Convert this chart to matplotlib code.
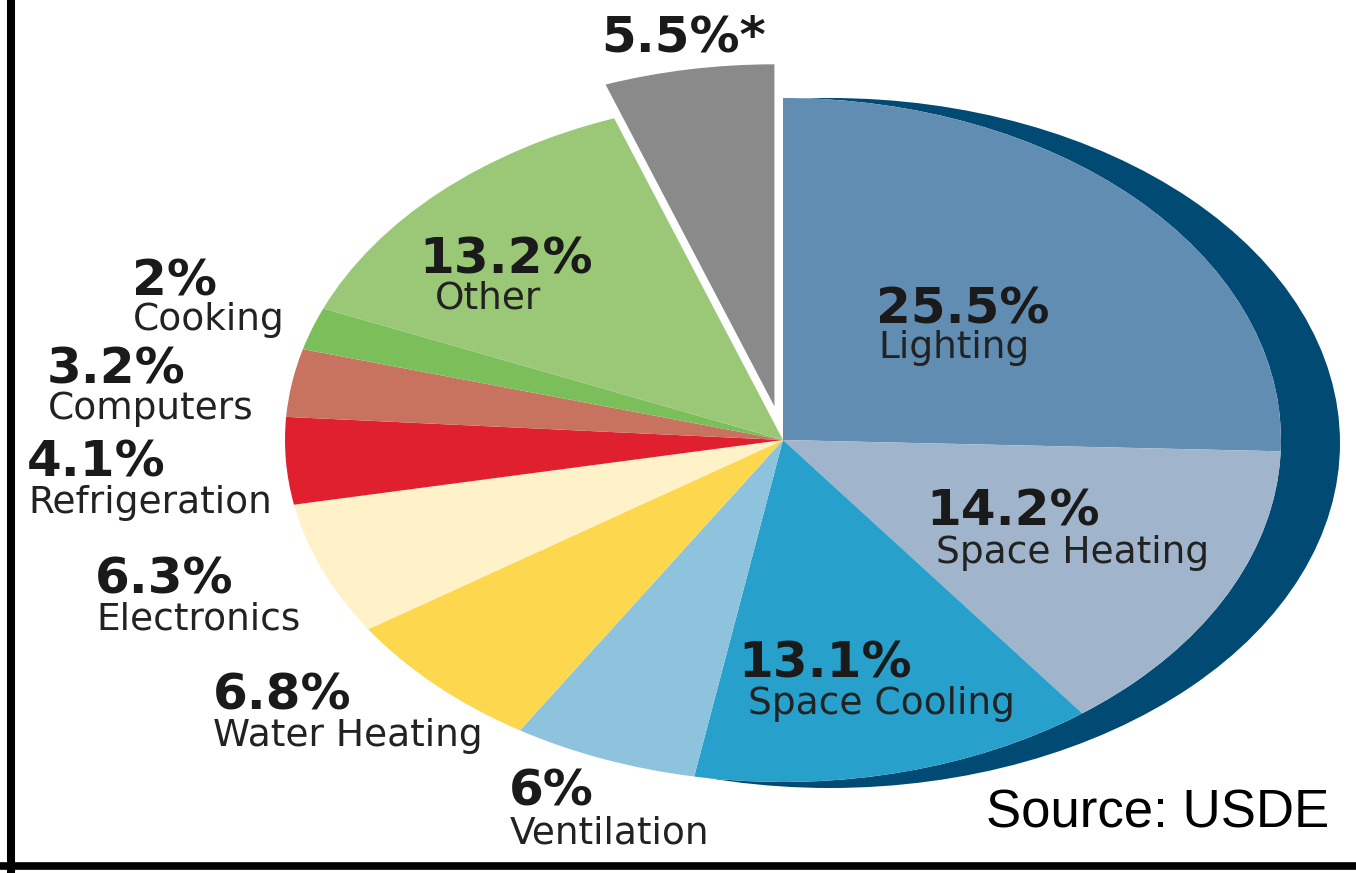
import matplotlib.pyplot as plt
from matplotlib.patches import Ellipse
from matplotlib.lines import Line2D

# Data (clockwise from 12 o'clock)
categories = ['Lighting', 'Space Heating', 'Space Cooling', 'Ventilation', 'Water Heating',
              'Electronics', 'Refrigeration', 'Computers', 'Cooking', 'Other', '']
shares = [25.5, 14.2, 13.1, 6, 6.8, 6.3, 4.1, 3.2, 2, 13.2, 5.5]
pct_labels = ['25.5%', '14.2%', '13.1%', '6%', '6.8%', '6.3%', '4.1%', '3.2%', '2%', '13.2%', '5.5%*']

colors = ['#628db3', '#a0b5cc', '#27a1cb', '#8dc3dc', '#fdd84f', '#fff2c9',
          '#e01f2f', '#c87360', '#7bbf5a', '#9bc877', '#8a8a8a']
explode = [0, 0, 0, 0, 0, 0, 0, 0, 0, 0, 0.1]

# label anchors in pixels: (pct x, pct baseline, name x, name baseline)
label_pos = [(876, 323, 878, 358), (926, 526, 936, 563), (738, 678, 748, 714),
             (509, 805, 510, 843), (213, 709, 213, 746), (95, 594, 96, 630),
             (27, 477, 28, 513), (47, 383, 48, 419), (132, 295, 133, 330),
             (419, 273, 435, 308), (601, 51, None, None)]

W, H = 1356, 873
cx, cy, rx, ry = 783, 440, 498, 342  # pie centre / radii in pixels

fig = plt.figure(figsize=(W / 100, H / 100), dpi=100)
ax = fig.add_axes([0, 0, 1, 1])

# dark 3D rim behind the pie, then a white face so the explode gap stays white
rim = Ellipse(((830 - cx) / rx, (cy - 443) / ry), 2 * 510 / rx, 2 * 345 / ry,
              facecolor='#004a73', edgecolor='none', zorder=0)
ax.add_patch(rim)
ax.add_patch(Ellipse((0, 0), 2, 2, facecolor='white', edgecolor='none', zorder=0.5))

wedges, _ = ax.pie(shares, colors=colors, startangle=90, counterclock=False,
                   explode=explode, radius=1, wedgeprops=dict(linewidth=0))
for w in wedges:
    w.set_zorder(1)

ax.set_aspect('auto')
ax.set_xlim(-cx / rx, (W - cx) / rx)
ax.set_ylim(-(H - cy) / ry, cy / ry)
ax.axis('off')

for pct, name, (px, py, nx, ny) in zip(pct_labels, categories, label_pos):
    fig.text(px / W, 1 - py / H, pct, fontsize=36, fontweight='bold',
             family='DejaVu Sans', color='#1a1a1a', ha='left', va='baseline')
    if nx is not None:
        fig.text(nx / W, 1 - ny / H, name, fontsize=27,
                 family='DejaVu Sans', color='#222222', ha='left', va='baseline')

fig.text(986 / W, 1 - 828 / H, 'Source: USDE', fontsize=38,
         family='Liberation Sans', color='black', ha='left', va='baseline')

# frame lines (left and bottom)
fig.add_artist(Line2D([11 / W, 11 / W], [0, 1], color='black', linewidth=5.8))
fig.add_artist(Line2D([0, 1], [1 - 866 / H, 1 - 866 / H], color='black', linewidth=5.5))

fig.savefig('out.png', dpi=100, facecolor='white')
